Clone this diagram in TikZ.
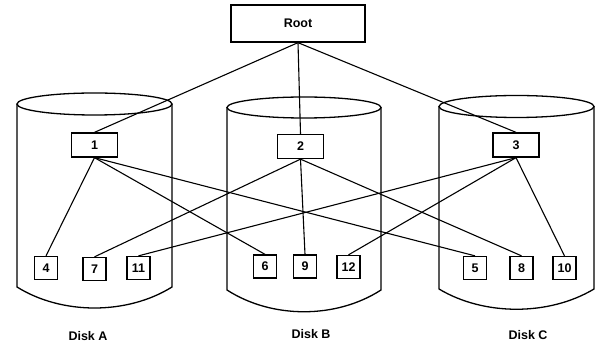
\documentclass[tikz,border=0pt]{standalone}
\usepackage{fontspec}
\setmainfont{Liberation Sans}
\begin{document}
\begin{tikzpicture}[x=1pt,y=-1pt,
  box/.style={draw,line width=1.3pt,fill=white,inner sep=0pt,font=\bfseries\fontsize{12.5}{14}\selectfont},
  leaf/.style={box,minimum width=23pt,minimum height=23pt},
  mid/.style={box,minimum width=46pt,minimum height=24pt},
  rootbox/.style={box,minimum width=134pt,minimum height=37pt},
  link/.style={line width=1.1pt},
  disk/.style={line width=1.3pt},
  lbl/.style={font=\bfseries\fontsize{12.5}{14}\selectfont}]
\useasboundingbox (0,0) rectangle (599,344);

% cylinders
\draw[disk] (94.5,104) ellipse [x radius=77.5, y radius=11];
\draw[disk] (17,104) -- (17,287) .. controls (62,315) and (127,315) .. (172,287) -- (172,104);
\draw[disk] (304,107.5) ellipse [x radius=77, y radius=10.5];
\draw[disk] (227,107.5) -- (227,290) .. controls (272,319) and (336,319) .. (381,290) -- (381,107.5);
\draw[disk] (516.5,106.5) ellipse [x radius=77.5, y radius=11];
\draw[disk] (439,106.5) -- (439,289) .. controls (484,316) and (549,316) .. (594,289) -- (594,106.5);

% nodes
\node[rootbox] (root) at (298,23.5) {Root};
\node[mid] (n1) at (94.5,145) {1};
\node[mid] (n2) at (300.5,146.5) {2};
\node[mid] (n3) at (516,145) {3};
\node[leaf] (n4) at (46,268) {4};
\node[leaf] (n7) at (94.5,269) {7};
\node[leaf] (n11) at (138.5,268) {11};
\node[leaf] (n6) at (265,266.5) {6};
\node[leaf] (n9) at (305,266.5) {9};
\node[leaf] (n12) at (348.5,267) {12};
\node[leaf] (n5) at (475,268) {5};
\node[leaf] (n8) at (521.5,268) {8};
\node[leaf] (n10) at (564.5,268) {10};

% connectors
\draw[link] (root.south) -- (n1.north);
\draw[link] (root.south) -- (n2.north);
\draw[link] (root.south) -- (n3.north);
\draw[link] (n1.south) -- (n4.north);
\draw[link] (n1.south) -- (n6.north);
\draw[link] (n1.south) -- (n5.north);
\draw[link] (n2.south) -- (n7.north);
\draw[link] (n2.south) -- (n9.north);
\draw[link] (n2.south) -- (n8.north);
\draw[link] (n3.south) -- (n11.north);
\draw[link] (n3.south) -- (n12.north);
\draw[link] (n3.south) -- (n10.north);

% labels
\node[lbl] (la) at (88,336) {Disk A};
\node[lbl] (lb) at (311,334) {Disk B};
\node[lbl] (lc) at (528,335) {Disk C};
\end{tikzpicture}
\end{document}
